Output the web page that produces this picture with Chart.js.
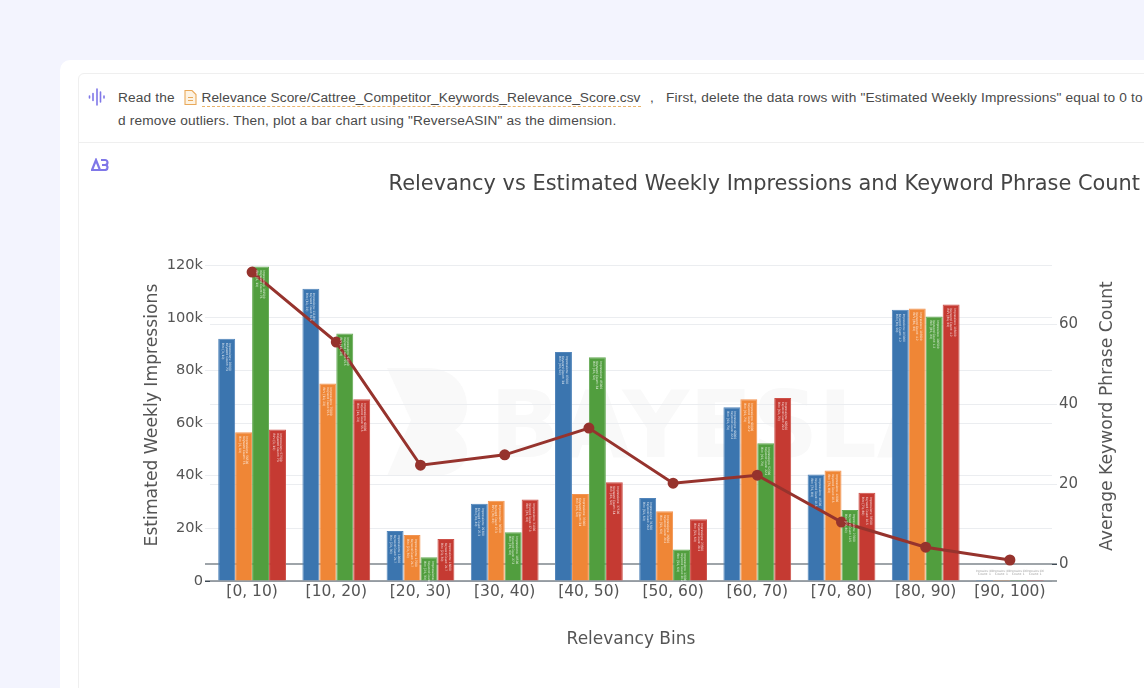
<!DOCTYPE html>
<html>
<head>
<meta charset="utf-8">
<script src="https://cdn.jsdelivr.net/npm/chart.js@4"></script>
<style>
  html, body { margin: 0; height: 100%; overflow: hidden; background: #f3f4fe; }
  body { position: relative; width: 1144px; height: 688px; font-family: "Liberation Sans", Arial, sans-serif; color: #4a4a4a; }
  .card { position: absolute; left: 60px; top: 60px; width: 1200px; height: 700px; background: #fff; border-radius: 10px; }
  .box { position: absolute; left: 78px; top: 73px; width: 1200px; height: 700px; border: 1px solid #efefef; border-radius: 6px; }
  .divider { position: absolute; left: 78px; top: 142px; width: 1100px; height: 1px; background: #efefef; }
  .line { position: absolute; left: 118px; font-size: 13.7px; white-space: nowrap; letter-spacing: .15px; }
  .file { border-bottom: 1px dashed #e9b36a; padding-bottom: 1px; letter-spacing: .06px; }
  .mark { position: absolute; }
  .water { position: absolute; left: 490px; top: 372px; font: bold 92px "DejaVu Sans", sans-serif; color: #f9f9f9; width: 430px; overflow: hidden; white-space: nowrap; }
  canvas { position: absolute; left: 0; top: 0; }
</style>
</head>
<body>
<div class="card"></div>
<div class="box"></div>
<div class="divider"></div>
<svg class="mark" style="left:88px;top:88px" width="18" height="18" viewBox="0 0 18 18" stroke="#7f77e8" stroke-width="1.6" stroke-linecap="round">
  <path d="M1.5 8v2M5 5.5v7M9 1v16M12.5 4v10M16 8v2"/>
</svg>
<div class="line" style="top:90px">Read the</div>
<svg class="mark" style="left:183px;top:89px" width="15" height="17" viewBox="0 0 15 17" fill="#fdf3e3" stroke="#e9a95a" stroke-width="1.1">
  <path d="M2 1.5h7l4 4v10H2zM5 8.5h5M5 11.5h5"/>
</svg>
<div class="line file" style="left:201.5px;top:90px;padding-right:1px">Relevance Score/Cattree_Competitor_Keywords_Relevance_Score.csv</div>
<div class="line" style="left:650px;top:90px">,</div>
<div class="line" style="left:666px;top:90px">First, delete the data rows with "Estimated Weekly Impressions" equal to 0 to filter the data an</div>
<div class="line" style="top:113px">d remove outliers. Then, plot a bar chart using "ReverseASIN" as the dimension.</div>
<svg class="mark" style="left:91px;top:158px" width="18" height="13" viewBox="0 0 18 13" fill="none" stroke="#7f77e8" stroke-width="2.2">
  <path d="M1 12L5 2l4 10zM10 2h4a2.2 2.2 0 0 1 0 5h-3m3 0a2.4 2.4 0 0 1 0 5h-4"/>
</svg>
<svg class="mark" style="left:385px;top:366px" width="84" height="112" viewBox="0 0 84 112" fill="#f9f9f9">
  <path d="M2 2h40c26 0 40 18 40 38 0 12-6 20-12 24 8 6 12 14 12 22 0 14-14 24-34 24H2l24-56z"/>
</svg>
<div class="water">BAYESLAB</div>
<canvas id="myChart" width="1144" height="688"></canvas>
<script>
var bins = ['[0, 10)', '[10, 20)', '[20, 30)', '[30, 40)', '[40, 50)', '[50, 60)', '[60, 70)', '[70, 80)', '[80, 90)', '[90, 100)'];
var blueValues = [92000, 111000, 19000, 29300, 87000, 31500, 66000, 40500, 103000, 400];
var orangeValues = [56500, 75000, 17500, 30500, 33000, 26500, 69000, 42000, 103500, 400];
var greenValues = [119500, 94000, 9000, 18500, 85000, 12000, 52300, 27000, 100500, 400];
var redValues = [57500, 69000, 16000, 31000, 37500, 23500, 69500, 33500, 105000, 400];
var phraseCounts = [73, 55.5, 24.7, 27.3, 34, 20.2, 22.2, 10.5, 4.2, 1];
var leftTicks = [0, 20000, 40000, 60000, 80000, 100000, 120000];
var rightTicks = [0, 20, 40, 60];

var fontName = '"DejaVu Sans", sans-serif';
var axisDark = '#3f4a55';
var gridLight = '#ebedf0';

// tiny rotated captions inside each bar
var barCaptions = {
  id: 'barCaptions',
  afterDatasetsDraw: function (chart) {
    var ctx = chart.ctx;
    for (var d = 0; d < 4; d++) {
      var meta = chart.getDatasetMeta(d);
      var values = chart.data.datasets[d].data;
      meta.data.forEach(function (bar, i) {
        var lines = ['Impressions: ' + values[i], 'Keyword Count: ' + phraseCounts[i], 'Bin: ' + bins[i]];
        ctx.save();
        ctx.font = '3px ' + fontName;
        if (values[i] < 1000) {
          ctx.fillStyle = '#9a9a9a';
          ctx.textAlign = 'center';
          ctx.fillText('Impressions: ' + values[i], bar.x, bar.y - 8, 17);
          ctx.fillText('Count: ' + phraseCounts[i], bar.x, bar.y - 5, 17);
        } else {
          ctx.fillStyle = 'rgba(255,255,255,.85)';
          ctx.translate(bar.x, bar.y + 4);
          ctx.rotate(Math.PI / 2);
          lines.forEach(function (t, n) {
            ctx.fillText(t, 0, (n - 1) * 3.6 + 1, 28);
          });
        }
        ctx.restore();
      });
    }
  }
};

function sideTitle(ctx, text, x, y) {
  ctx.save();
  ctx.translate(x, y);
  ctx.rotate(-Math.PI / 2);
  ctx.fillStyle = '#555';
  ctx.font = '17.2px ' + fontName;
  ctx.textAlign = 'center';
  ctx.textBaseline = 'middle';
  ctx.fillText(text, 0, 0);
  ctx.restore();
}

// the two dark axis lines run past the plot area on both sides,
// and both side titles sit off centre from the plot, which scale titles can't do
var axisLines = {
  id: 'axisLines',
  beforeDatasetsDraw: function (chart) {
    var area = chart.chartArea, ctx = chart.ctx;
    var zero = chart.scales.y1.getPixelForValue(0);
    var mid = (area.top + area.bottom) / 2 - 7;
    ctx.save();
    ctx.strokeStyle = axisDark;
    ctx.lineWidth = 1.2;
    ctx.beginPath();
    ctx.moveTo(area.left - 5, zero);
    ctx.lineTo(area.right + 5, zero);
    ctx.moveTo(area.left - 5, area.bottom);
    ctx.lineTo(area.right + 5, area.bottom);
    ctx.stroke();
    ctx.restore();
    sideTitle(ctx, 'Estimated Weekly Impressions', area.left - 57, mid - 1);
    sideTitle(ctx, 'Average Keyword Phrase Count', area.right + 56, mid);
  }
};

function barSet(label, values, color, edge) {
  return {
    label: label,
    data: values,
    backgroundColor: color,
    borderColor: edge,
    borderWidth: 1,
    barPercentage: 1,
    categoryPercentage: 0.805,
    yAxisID: 'y',
    order: 2
  };
}

var ctx = document.getElementById('myChart').getContext('2d');
var myChart = new Chart(ctx, {
  type: 'bar',
  data: {
    labels: bins,
    datasets: [
      barSet('ASIN 1', blueValues, '#3b75af', '#5285ba'),
      barSet('ASIN 2', orangeValues, '#ef8636', '#f29452'),
      barSet('ASIN 3', greenValues, '#519e3e', '#65aa54'),
      barSet('ASIN 4', redValues, '#c53a32', '#cd5149'),
      {
        type: 'line',
        label: 'Average Keyword Phrase Count',
        data: phraseCounts,
        borderColor: '#96332d',
        backgroundColor: '#96332d',
        borderWidth: 3,
        pointRadius: 4,
        pointHoverRadius: 4,
        tension: 0,
        yAxisID: 'y1',
        order: 1
      }
    ]
  },
  options: {
    responsive: false,
    animation: false,
    layout: { padding: { left: 0, right: 4, top: 0, bottom: 38 } },
    plugins: {
      legend: { display: false },
      tooltip: { enabled: false },
      title: {
        display: true,
        text: 'Relevancy vs Estimated Weekly Impressions and Keyword Phrase Count',
        align: 'end',
        color: '#444',
        font: { family: fontName, size: 20.9, weight: 'normal' },
        padding: { top: 172, bottom: 68 }
      }
    },
    scales: {
      x: {
        grid: { display: false, drawTicks: false },
        border: { display: false },
        ticks: { color: '#555', font: { family: fontName, size: 15.5 }, padding: 2, maxRotation: 0 },
        title: {
          display: true,
          text: 'Relevancy Bins',
          color: '#555',
          font: { family: fontName, size: 17 },
          padding: { top: 26, bottom: 0 }
        }
      },
      y: {
        position: 'left',
        min: 0,
        max: 120000,
        afterBuildTicks: function (axis) {
          axis.ticks = leftTicks.map(function (v) { return { value: v }; });
        },
        afterFit: function (axis) { axis.width = 210; },
        grid: {
          color: gridLight,
          tickColor: function (c) { return c.tick.value === 0 ? axisDark : gridLight; },
          tickLength: 5
        },
        border: { display: false },
        ticks: {
          color: '#555',
          font: { family: fontName, size: 14.6 },
          padding: 2,
          callback: function (v) { return v === 0 ? '0' : (v / 1000) + 'k'; }
        }
      },
      y1: {
        position: 'right',
        min: -4.25,
        max: 74.75,
        afterBuildTicks: function (axis) {
          axis.ticks = rightTicks.map(function (v) { return { value: v }; });
        },
        afterFit: function (axis) { axis.width = 88; },
        grid: {
          color: function (c) { return c.tick.value === 0 ? 'rgba(0,0,0,0)' : gridLight; },
          tickColor: function (c) { return c.tick.value === 0 ? axisDark : gridLight; },
          tickLength: 5
        },
        border: { display: false },
        ticks: { color: '#555', font: { family: fontName, size: 15 }, padding: 2 }
      }
    }
  },
  plugins: [axisLines, barCaptions]
});
</script>
</body>
</html>
